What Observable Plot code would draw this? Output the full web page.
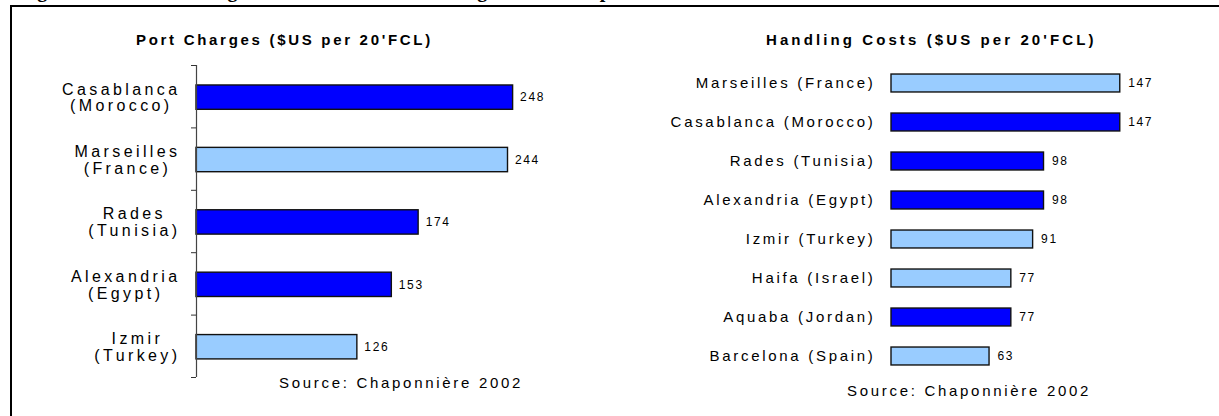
<!DOCTYPE html>
<html><head><meta charset="utf-8">
<script src="https://cdn.jsdelivr.net/npm/d3@7"></script>
<script src="https://cdn.jsdelivr.net/npm/@observablehq/plot@0.6"></script>
<style>
body{margin:0;background:#fff;}
#wrap{position:relative;width:1219px;height:416px;overflow:hidden;font-family:"Liberation Sans",Arial,sans-serif;color:#000;}
#fig{position:absolute;left:14px;top:-21.5px;font:bold 20px "Liberation Serif","Times New Roman",serif;letter-spacing:2.8px;white-space:nowrap;line-height:22px;}
#frame{position:absolute;left:10px;top:5px;width:1300px;height:500px;border-left:2px solid #000;border-top:2px solid #000;}
.title{position:absolute;font-weight:bold;font-size:15px;line-height:18px;letter-spacing:2.7px;white-space:nowrap;}
.src{position:absolute;font-size:15px;line-height:18px;letter-spacing:2.7px;white-space:nowrap;}
.chart{position:absolute;top:0;}
.chart svg text{font-family:"Liberation Sans",Arial,sans-serif;}
</style>
</head><body>
<div id="wrap">
  <div id="fig">Figure 10: Handling Costs and Port Charges in Comparison</div>
  <div id="frame"></div>
  <div class="title" style="left:136px;top:31px;">Port Charges ($US per 20'FCL)</div>
  <div class="title" style="left:766px;top:31px;letter-spacing:3.1px;">Handling Costs ($US per 20'FCL)</div>
  <div class="chart" id="left" style="left:0px;"></div>
  <div class="chart" id="right" style="left:600px;"></div>
  <div class="src" style="left:279px;top:374px;">Source: Chaponnière 2002</div>
  <div class="src" style="left:847px;top:382px;">Source: Chaponnière 2002</div>
</div>
<script>
// ---- Data: Port charges ----
const portChargePorts = ["Casablanca\n(Morocco)", "Marseilles\n(France)", "Rades\n(Tunisia)", "Alexandria\n(Egypt)", "Izmir\n(Turkey)"];
const portChargeValues = [248, 244, 174, 153, 126];
const portChargeGroups = ["Arab", "Other", "Arab", "Arab", "Other"];

// ---- Data: Handling costs ----
const handlingPorts = ["Marseilles (France)", "Casablanca (Morocco)", "Rades (Tunisia)", "Alexandria (Egypt)", "Izmir (Turkey)", "Haifa (Israel)", "Aquaba (Jordan)", "Barcelona (Spain)"];
const handlingValues = [147, 147, 98, 98, 91, 77, 77, 63];
const handlingGroups = ["Other", "Arab", "Arab", "Arab", "Other", "Other", "Arab", "Other"];

const groupDomain = ["Arab", "Other"];
const groupColors = ["#0000FF", "#99CCFF"];

const L = portChargePorts.map((p, i) => ({port: p, value: portChargeValues[i], group: portChargeGroups[i], i}));
const R = handlingPorts.map((p, i) => ({port: p, value: handlingValues[i], group: handlingGroups[i], i}));

const left = Plot.plot({
  width: 600, height: 416,
  marginLeft: 196, marginRight: 21, marginTop: 65, marginBottom: 39,
  x: {domain: [0, 300], axis: null},
  y: {domain: [0, L.length], reverse: true},
  color: {domain: groupDomain, range: groupColors},
  style: {background: "transparent", overflow: "visible"},
  marks: [
    Plot.rectX(L, {x1: 0, x2: "value", y1: d => d.i + 0.32, y2: d => d.i + 0.71, fill: "group", stroke: "#111", strokeWidth: 1.4}),
    Plot.ruleX([0], {y1: 0, y2: L.length, stroke: "#444", strokeWidth: 1.2}),
    Plot.axisY(d3.range(L.length + 1), {anchor: "left", tickSize: 5, tickFormat: () => "", stroke: "#333", label: null}),
    Plot.text(L, {x: 0, y: d => d.i + 0.515, text: "port", textAnchor: "end", dx: -16, lineHeight: 1.05, fontSize: 16, fill: "#000"}),
    Plot.text(L, {x: "value", y: d => d.i + 0.515, text: d => String(d.value), textAnchor: "start", dx: 7, fontSize: 12, fill: "#000"})
  ]
});
document.getElementById("left").append(left);

const right = Plot.plot({
  width: 619, height: 416,
  marginLeft: 291, marginRight: 79, marginTop: 63.5, marginBottom: 40.5,
  x: {domain: [0, 160], axis: null},
  y: {domain: [0, R.length], reverse: true, axis: null},
  color: {domain: groupDomain, range: groupColors},
  style: {background: "transparent", overflow: "visible"},
  marks: [
    Plot.rectX(R, {x1: 0, x2: "value", y1: d => d.i + 0.27, y2: d => d.i + 0.73, fill: "group", stroke: "#111", strokeWidth: 1.4}),
    Plot.text(R, {x: 0, y: d => d.i + 0.5, text: "port", textAnchor: "end", dx: -16, fontSize: 15, fill: "#000"}),
    Plot.text(R, {x: "value", y: d => d.i + 0.5, text: d => String(d.value), textAnchor: "start", dx: 8, fontSize: 12, fill: "#000"})
  ]
});
document.getElementById("right").append(right);

// letter spacing of the stretched original, applied per text mark group
const leftTexts = left.querySelectorAll('g[aria-label="text"]');
const rightTexts = right.querySelectorAll('g[aria-label="text"]');
leftTexts[0].style.letterSpacing = "3.4px";
leftTexts[1].style.letterSpacing = "1.6px";
rightTexts[0].style.letterSpacing = "2.7px";
rightTexts[1].style.letterSpacing = "1.6px";

// centre each two-line label within its right-aligned block
leftTexts[0].querySelectorAll("text").forEach(t => {
  const w = t.getBBox().width;
  t.setAttribute("text-anchor", "middle");
  t.setAttribute("transform", (t.getAttribute("transform") || "") + ` translate(${-w / 2},0)`);
});
</script>
</body></html>
